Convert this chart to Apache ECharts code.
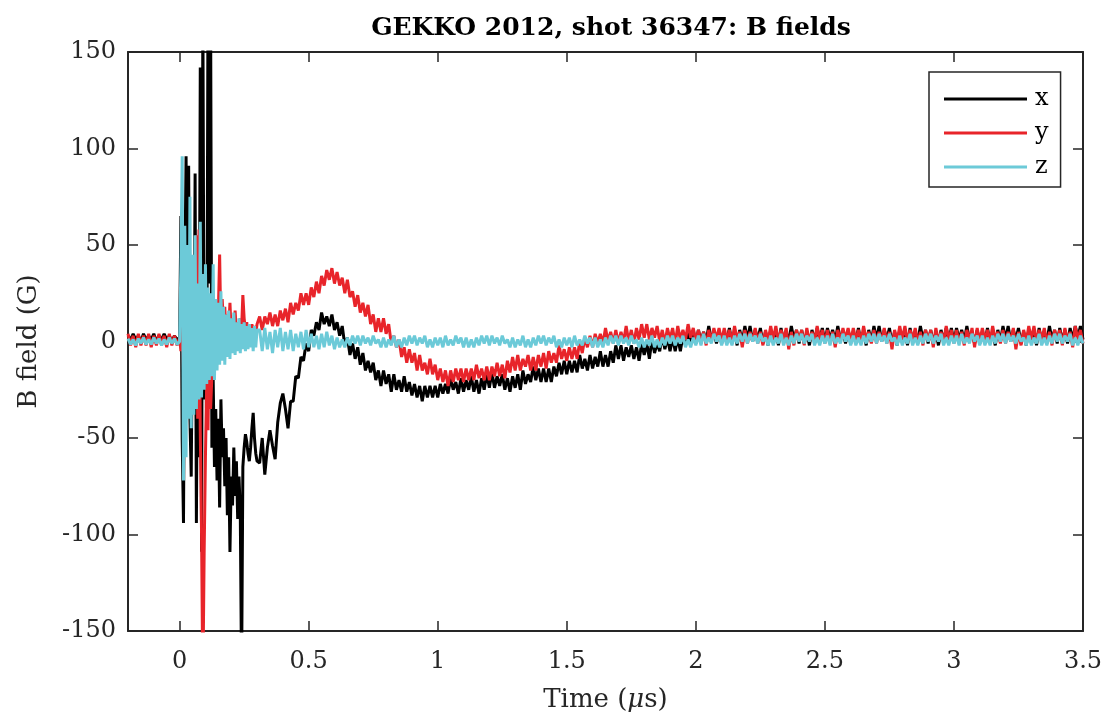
<!DOCTYPE html>
<html><head><meta charset="utf-8">
<script src="https://cdn.jsdelivr.net/npm/echarts@6/dist/echarts.min.js"></script>
<style>html,body{margin:0;padding:0;background:#fff}#chart{width:1113px;height:722px}</style>
</head><body><div id="chart"></div>
<script>
// ---- sampling of the three record segments (µs) ----
const PRE_START = -0.2,  PRE_STEP = 0.01;    // pre-trigger
const BURST_START = 0,   BURST_STEP = 0.005; // initial burst
const MAIN_START = 0.31, MAIN_STEP = 0.01;   // rest of record

const seriesNames = ['x', 'y', 'z'];
const xTickValues = [0, 0.5, 1, 1.5, 2, 2.5, 3, 3.5];

// ---- B_x (G) ----
const bxPre = [3,1,4,1,3,0,4,1,3,1,4,0,3,1,4,1,3,0,3,1];
const bxBurst = [2,65,-51,-94,30,96,10,91,-40,-70,20,-30,87,-94,25,-60,142,-109,175,-30,10,-45,180,30,175,-55,-20,-65,-35,-72,-40,-86,-30,-60,-45,-75,-50,-90,-60,-109,-70,-85,-55,-80,-62,-92,-70,-88,-175,-65,-55,-48,-52,-58,-62,-55,-45,-37,-50,-58,-62];
const bxMain = [
-63,-50,-69,-55,-46,-54,-61,-42,-32,-27,
-35,-45,-31,-31,-18,-19,-8,-10,-1,-5,
6,3,10,6,15,9,13,8,14,6,
10,3,8,-2,2,-7,-1,-9,-3,-12,
-6,-15,-10,-16,-11,-20,-15,-23,-15,-22,
-17,-26,-17,-25,-20,-26,-18,-26,-21,-28,
-22,-29,-23,-31,-23,-29,-23,-29,-23,-29,
-22,-27,-22,-27,-19,-25,-21,-27,-19,-26,
-20,-25,-18,-26,-20,-27,-19,-25,-17,-24,
-16,-24,-18,-23,-17,-25,-19,-26,-18,-24,
-17,-25,-15,-22,-17,-21,-13,-20,-14,-21,
-14,-21,-14,-21,-13,-18,-11,-17,-10,-17,
-10,-16,-10,-16,-7,-14,-9,-15,-7,-14,
-8,-13,-5,-13,-7,-13,-5,-11,-2,-9,
-2,-10,-3,-8,-2,-9,-3,-10,-1,-7,
-1,-9,1,-6,-1,-5,3,-4,2,-5,
2,-5,2,-5,3,-2,5,-1,6,-1,
6,0,5,0,8,1,5,-1,6,-1,
5,0,7,-1,5,-2,6,0,8,1,
8,0,6,1,7,-1,5,-2,6,0,
6,-2,7,0,5,0,8,1,6,-1,
6,-1,5,-2,6,0,7,1,7,0,
7,1,6,0,8,1,5,-1,6,-1,
5,0,7,-1,5,-2,6,0,8,1,
8,0,6,1,7,-1,5,-2,6,0,
6,-2,7,0,5,0,8,1,6,-1,
6,-1,5,-2,6,0,7,1,7,0,
7,1,6,0,8,1,5,-1,6,-1,
5,0,7,-1,5,-2,6,0,8,1,
8,0,6,1,7,-1,5,-2,6,0,
6,-2,7,0,5,0,8,1,6,-1,
7,0,6,-1,7,1,8,2,8,1];

// ---- B_y (G) ----
const byPre = [4,-2,3,-3,4,-2,3,-2,4,-3,3,-2,4,-2,3,-3,4,-2,3,-2];
const byBurst = [2,-5,12,-15,8,-12,18,-20,10,-25,15,-30,25,55,-40,58,-46,-100,-180,-110,-60,-20,-46,5,-35,-18,10,-10,20,0,15,45,5,22,8,18,3,14,6,20,4,12,2,16,5,10,3,12,6,24,12,6,10,3,8,4,9,5,8,4,9];
const byMain = [
13,6,13,9,15,8,14,8,16,11,
17,10,20,14,20,16,25,19,25,19,
28,23,31,25,34,29,37,32,38,30,
36,29,33,25,32,23,26,18,24,15,
20,13,19,9,14,5,12,5,12,4,
9,-1,3,-3,1,-8,-3,-11,-4,-11,
-6,-15,-7,-15,-11,-17,-9,-17,-12,-20,
-14,-21,-15,-23,-15,-21,-14,-20,-14,-21,
-14,-20,-14,-20,-12,-19,-14,-20,-13,-20,
-13,-18,-11,-18,-12,-19,-10,-16,-8,-15,
-7,-15,-9,-13,-7,-15,-8,-15,-7,-13,
-6,-14,-5,-11,-6,-11,-2,-9,-4,-10,
-3,-9,-3,-9,0,-6,2,-3,3,-3,
4,-1,4,-1,7,0,5,-1,6,-1,
5,0,8,0,6,-1,7,1,9,2,
9,1,7,2,8,0,6,-1,7,1,
7,-1,8,1,6,1,9,2,7,0,
6,-1,5,-2,6,0,7,1,7,0,
7,1,6,0,8,1,5,-3,6,-1,
5,0,7,-1,5,-2,6,0,8,1,
8,0,6,1,7,-4,5,-2,6,0,
6,-2,7,0,5,0,8,1,6,-1,
6,-1,5,-3,6,0,7,1,7,0,
7,1,6,0,8,1,5,-1,6,-1,
5,0,7,-1,5,-4,6,0,8,1,
8,0,6,1,7,-1,5,-2,6,0,
6,-3,7,0,5,0,8,1,6,-1,
6,-1,5,-2,6,0,7,-3,7,0,
7,1,6,0,8,1,5,-1,6,-1,
5,0,7,-4,5,-2,6,0,8,1,
8,0,6,1,7,-1,5,-2,6,0,
6,-2,7,0,5,-3,8,1,6,-1];

// ---- B_z (G) ----
const bzPre = [1.5,-1.5,1,-2,1.5,-1,2,-1.5,1,-1.5,2,-1,1.5,-2,1,-1.5,2,-1,1.5,-1.5];
const bzBurst = [0,40,96,-72,60,-60,50,-40,75,-45,45,-38,55,-35,30,-30,62,-29,35,-25,40,-22,28,-20,25,-18,40,-20,22,-15,20,-12,26,-10,18,-12,14,-8,16,-9,12,-6,15,-7,10,-5,12,-6,9,-4,10,-5,8,-4,9,-3,7,-5,8,-3,6];
const bzMain = [
6,-5,7,-4,5,-6,6,-3,7,-5,
5,-4,6,-5,4,-3,5,-4,6,-3,
4,-3,3,-4,4,-3,5,-2,3,-4,
2,-3,1,-3,2,-2,3,-1,3,-2,
3,-1,2,-2,3,-1,1,-3,2,-3,
1,-2,3,-3,1,-3,2,-2,3,-1,
3,-2,2,-1,3,-3,1,-3,2,-2,
2,-3,3,-2,1,-2,3,-1,2,-3,
2,-3,1,-3,2,-2,3,-1,3,-2,
3,-1,2,-2,3,-1,1,-3,2,-3,
1,-2,3,-3,1,-3,2,-2,3,-1,
3,-2,2,-1,3,-3,1,-3,2,-2,
2,-3,3,-2,1,-2,3,-1,2,-3,
2,-3,1,-3,2,-2,3,-1,3,-2,
3,-1,2,-2,3,-1,1,-3,2,-3,
1,-2,3,-3,1,-3,2,-2,3,-1,
3,-2,2,-1,3,-3,1,-3,2,-2,
3,-2,4,-1,2,-1,4,0,3,-2,
3,-2,2,-2,3,-1,4,0,4,-1,
4,0,3,-1,4,0,2,-2,3,-2,
2,-1,4,-2,2,-2,3,-1,4,0,
4,-1,3,0,4,-2,2,-2,3,-1,
3,-2,4,-1,2,-1,4,0,3,-2,
3,-2,2,-2,3,-1,4,0,4,-1,
4,0,3,-1,4,0,2,-2,3,-2,
2,-1,4,-2,2,-2,3,-1,4,0,
4,-1,3,0,4,-2,2,-2,3,-1,
3,-2,4,-1,2,-1,4,0,3,-2,
3,-2,2,-2,3,-1,4,0,4,-1,
4,0,3,-1,4,0,2,-2,3,-2,
2,-1,4,-2,2,-2,3,-1,4,0,
4,-1,3,0,4,-2,2,-2,3,-1];

// ---- assemble [time, value] pairs from the sampled segments ----
function segment(start, step, vals) {
  return vals.map((v, i) => [+(start + i * step).toFixed(4), v]);
}
function record(pre, burst, main) {
  return segment(PRE_START, PRE_STEP, pre)
    .concat(segment(BURST_START, BURST_STEP, burst))
    .concat(segment(MAIN_START, MAIN_STEP, main));
}
const dataX = record(bxPre, bxBurst, bxMain);
const dataY = record(byPre, byBurst, byMain);
const dataZ = record(bzPre, bzBurst, bzMain);

const FONT = 'DejaVu Serif';
const AX = '#262626';
const colors = ['#000000', '#e8242a', '#6ccad8'];
const LW = 3;

const axisLineStyle = {show: true, onZero: false, lineStyle: {color: AX, width: 2}};
const tickStyle = {show: true, inside: true, length: 10, lineStyle: {color: AX, width: 1.5}};

const chart = echarts.init(document.getElementById('chart'), null, {renderer: 'canvas'});
chart.setOption({
  animation: false,
  backgroundColor: '#ffffff',
  title: {
    text: 'GEKKO 2012, shot 36347: B fields',
    left: 606, top: 11, textAlign: 'center',
    textStyle: {fontFamily: FONT, fontWeight: 'bold', fontSize: 25, color: '#000'}
  },
  grid: {left: 128, right: 30, top: 52, bottom: 91, containLabel: false},
  legend: {
    data: seriesNames, orient: 'vertical', left: 929, top: 72,
    padding: [15, 12, 8, 15], itemGap: 10, itemWidth: 83, itemHeight: 3,
    icon: 'rect', borderColor: AX, borderWidth: 1.5, backgroundColor: '#fff',
    textStyle: {fontFamily: FONT, fontSize: 24, color: '#000', lineHeight: 24, padding: [0, 0, 0, 3]}
  },
  xAxis: [{
    type: 'value', position: 'bottom', min: -0.2, max: 3.5,
    axisLine: axisLineStyle,
    axisTick: Object.assign({customValues: xTickValues}, tickStyle),
    axisLabel: {customValues: xTickValues, margin: 19, fontFamily: FONT, fontSize: 24, color: AX},
    splitLine: {show: false},
    name: '{n|Time (}{i|μ}{n|s)}', nameLocation: 'middle', nameGap: 56,
    nameTextStyle: {rich: {
      n: {fontFamily: FONT, fontSize: 26, color: AX},
      i: {fontFamily: FONT, fontSize: 26, color: AX, fontStyle: 'italic'}
    }}
  }, {
    type: 'value', position: 'top', min: -0.2, max: 3.5,
    axisLine: axisLineStyle,
    axisTick: Object.assign({customValues: xTickValues}, tickStyle),
    axisLabel: {show: false}, splitLine: {show: false}
  }],
  yAxis: [{
    type: 'value', position: 'left', min: -150, max: 150, interval: 50,
    axisLine: axisLineStyle, axisTick: tickStyle,
    axisLabel: {margin: 12, fontFamily: FONT, fontSize: 24, color: AX},
    splitLine: {show: false},
    name: 'B field (G)', nameLocation: 'middle', nameGap: 86, nameRotate: 90,
    nameTextStyle: {fontFamily: FONT, fontSize: 26, color: AX}
  }, {
    type: 'value', position: 'right', min: -150, max: 150, interval: 50,
    axisLine: axisLineStyle, axisTick: tickStyle,
    axisLabel: {show: false}, splitLine: {show: false}
  }],
  series: [
    {name: 'x', type: 'line', data: dataX, showSymbol: false, clip: true, lineStyle: {color: colors[0], width: LW}, itemStyle: {color: colors[0]}},
    {name: 'y', type: 'line', data: dataY, showSymbol: false, clip: true, lineStyle: {color: colors[1], width: LW}, itemStyle: {color: colors[1]}},
    {name: 'z', type: 'line', data: dataZ, showSymbol: false, clip: true, lineStyle: {color: colors[2], width: LW}, itemStyle: {color: colors[2]}}
  ]
});
</script></body></html>
